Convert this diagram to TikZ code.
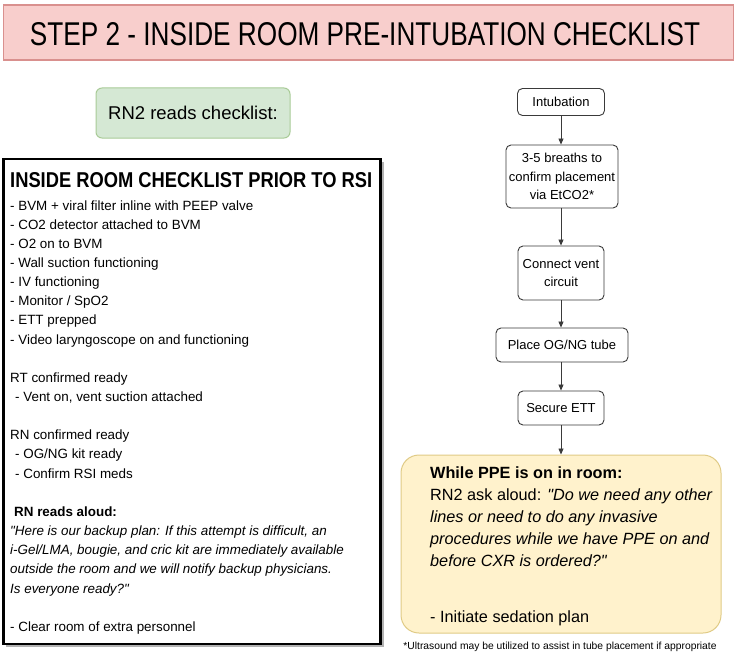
\documentclass[tikz,border=0pt]{standalone}
\usepackage{fontspec}
\setmainfont{Liberation Sans}
\usepackage{graphicx}
\usetikzlibrary{arrows.meta}
\definecolor{titlefill}{HTML}{F8CECC}
\definecolor{titleline}{HTML}{D9908E}
\definecolor{greenfill}{HTML}{D5E8D4}
\definecolor{greenline}{HTML}{A9CB97}
\definecolor{yelfill}{HTML}{FFF2CC}
\definecolor{yelline}{HTML}{E0CB86}
\definecolor{flowline}{HTML}{3A3A3A}
\tikzset{
 flowbox/.style={draw=flowline, line width=0.9pt, rounded corners=5pt, align=center, inner sep=1pt, font=\fontsize{13}{18.5}\selectfont, fill=white},
 flowarrow/.style={draw=flowline, line width=0.8pt, -{Triangle[length=6pt,width=5pt]}},
 bodytext/.style={anchor=base west, inner sep=0pt, font=\fontsize{13.4}{16}\selectfont},
 yeltext/.style={anchor=base west, inner sep=0pt, font=\fontsize{16.25}{20}\selectfont},
}
\begin{document}
\begin{tikzpicture}[x=1pt,y=-1pt]
\useasboundingbox[fill=white] (0,0) rectangle (742,669);
% title
\node[draw=titleline, line width=1.2pt, fill=titlefill, minimum width=730pt, minimum height=55pt, inner sep=0pt] (titlebox) at (368.5,32.5) {};
\node[inner sep=0pt] (titletext) at (365,34.5) {\resizebox{670pt}{23pt}{STEP 2 - INSIDE ROOM PRE-INTUBATION CHECKLIST}};
% green
\node[draw=greenline, fill=greenfill, rounded corners=6pt, line width=1pt, minimum width=194pt, minimum height=50pt, inner sep=0pt, font=\fontsize{18.5}{20}\selectfont] (rn2) at (193,113) {RN2 reads checklist:};
% checklist box
\fill[black!30] (6,162) rectangle (384,647);
\node[draw=black, line width=2.6pt, fill=white, minimum width=377pt, minimum height=485pt, inner sep=0pt] (cbox) at (192,401.5) {};
\node[anchor=base west, inner sep=0pt] (chead) at (10,187) {\resizebox{362pt}{15pt}{\bfseries INSIDE ROOM CHECKLIST PRIOR TO RSI}};
\node[bodytext] (c0) at (10,210) {- BVM + viral filter inline with PEEP valve};
\node[bodytext] (c1) at (10,229.15) {- CO2 detector attached to BVM};
\node[bodytext] (c2) at (10,248.3) {- O2 on to BVM};
\node[bodytext] (c3) at (10,267.45) {- Wall suction functioning};
\node[bodytext] (c4) at (10,286.6) {- IV functioning};
\node[bodytext] (c5) at (10,305.75) {- Monitor / SpO2};
\node[bodytext] (c6) at (10,324.9) {- ETT prepped};
\node[bodytext] (c7) at (10,344.05) {- Video laryngoscope on and functioning};
\node[bodytext] (c9) at (10,382.35) {RT confirmed ready};
\node[bodytext] (c10) at (15,401.5) {- Vent on, vent suction attached};
\node[bodytext] (c12) at (10,439.8) {RN confirmed ready};
\node[bodytext] (c13) at (15,458.95) {- OG/NG kit ready};
\node[bodytext] (c14) at (15,478.1) {- Confirm RSI meds};
\node[bodytext] (c16) at (14,516.4) {\bfseries RN reads aloud:};
\node[bodytext] (c17) at (10,535.55) {\itshape \textquotedbl Here is our backup plan: If this attempt is difficult, an};
\node[bodytext] (c18) at (10,554.7) {\itshape i-Gel/LMA, bougie, and cric kit are immediately available};
\node[bodytext] (c19) at (10,573.85) {\itshape outside the room and we will notify backup physicians.};
\node[bodytext] (c20) at (10,593) {\itshape Is everyone ready?\textquotedbl};
\node[bodytext] (c22) at (10,631.3) {- Clear room of extra personnel};
% flow
\node[flowbox, minimum width=87pt, minimum height=27pt] (f1) at (561,102) {Intubation};
\node[flowbox, minimum width=112pt, minimum height=63pt] (f2) at (562,176.5) {3-5 breaths to\\confirm placement\\via EtCO2*};
\node[flowbox, minimum width=86pt, minimum height=54pt] (f3) at (561,273) {Connect vent\\circuit};
\node[flowbox, minimum width=132pt, minimum height=34pt] (f4) at (562,345) {Place OG/NG tube};
\node[flowbox, minimum width=86pt, minimum height=34pt] (f5) at (561,408) {Secure ETT};
\node[draw=yelline, fill=yelfill, rounded corners=18pt, line width=1pt, minimum width=320pt, minimum height=178pt, inner sep=0pt] (ppe) at (561,544) {};
\draw[flowarrow] (f1.south) -- (f1.south |- f2.north);
\draw[flowarrow] (f2.south -| f1.south) -- (f1.south |- f3.north);
\draw[flowarrow] (f3.south) -- (f3.south |- f4.north);
\draw[flowarrow] (f4.south -| f3.south) -- (f3.south |- f5.north);
\draw[flowarrow] (f5.south) -- (f5.south |- ppe.north);
\node[yeltext] (y1) at (430,478) {\bfseries While PPE is on in room:};
\node[yeltext] (y2) at (430,500) {RN2 ask aloud: \itshape \textquotedbl Do we need any other};
\node[yeltext] (y3) at (430,522) {\itshape lines or need to do any invasive};
\node[yeltext] (y4) at (430,544) {\itshape procedures while we have PPE on and};
\node[yeltext] (y5) at (430,566) {\itshape before CXR is ordered?\textquotedbl};
\node[yeltext] (y7) at (430,622) {- Initiate sedation plan};
\node[inner sep=0pt, anchor=base, font=\fontsize{10.3}{12}\selectfont] (foot) at (560,649) {*Ultrasound may be utilized to assist in tube placement if appropriate};
\end{tikzpicture}
\end{document}
